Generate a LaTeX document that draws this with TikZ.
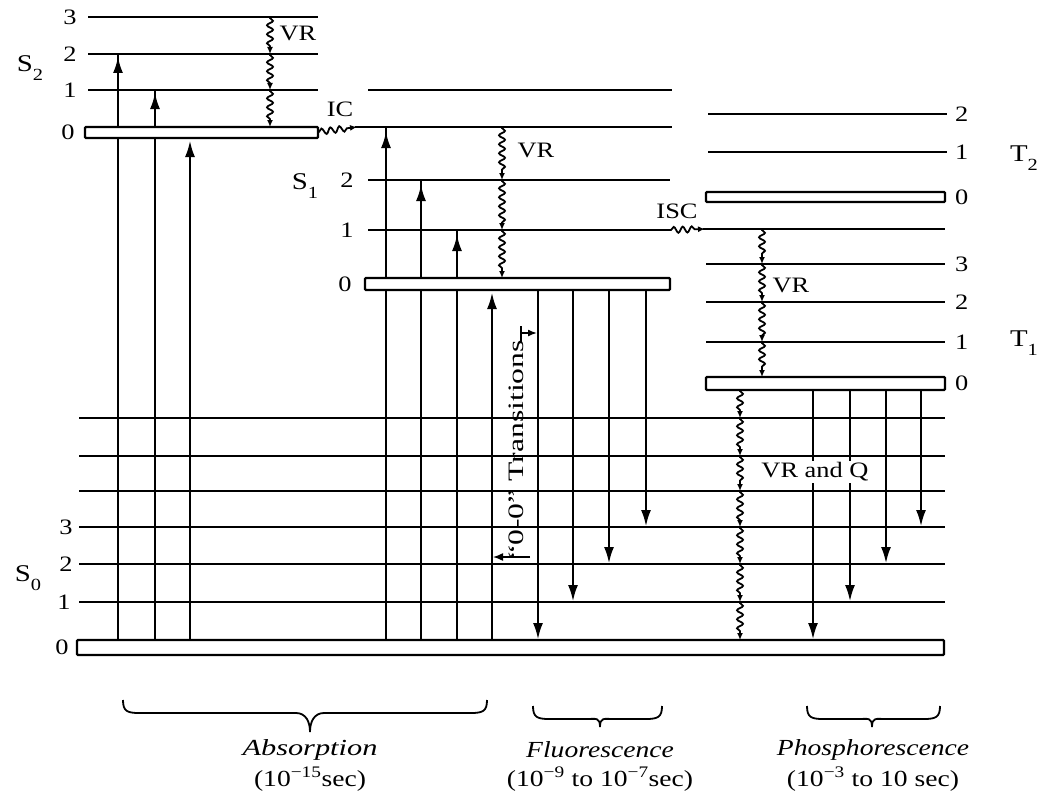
\documentclass[tikz,border=0pt]{standalone}
\usepackage{fontspec}
\setmainfont{Liberation Serif}[FakeStretch=1.2]
\usetikzlibrary{arrows.meta,decorations.pathmorphing}
\newcommand\lowsub[1]{\raisebox{-0.35em}{\fontsize{17}{17}\selectfont #1}}
\newcommand\mybrace[5]{% x1, x2, xtip, yend, ytip
  \draw[bracestyle] (#1,#4) .. controls (#1,#4+11) and (#1+4,#4+13) .. (#1+16,#4+13)
    -- (#3-14,#4+13) .. controls (#3-4,#4+13) and (#3,#5-10) .. (#3,#5)
    .. controls (#3,#5-10) and (#3+4,#4+13) .. (#3+14,#4+13)
    -- (#2-16,#4+13) .. controls (#2-4,#4+13) and (#2,#4+11) .. (#2,#4);}
\begin{document}
\begin{tikzpicture}[x=1pt,y=-1pt,
  lev/.style={line width=2.5pt},
  lvbox/.style={line width=2.2pt,fill=white,rounded corners=1pt},
  arr/.style={line width=1.8pt},
  arrtip/.style={line width=1.8pt,-{Latex[length=16pt,width=10pt]}},
  wav/.style={line width=1.8pt,decorate,decoration={snake,amplitude=3pt,segment length=9pt,post length=6pt,pre length=1pt},-{Latex[length=7pt,width=6pt]}},
  lvnum/.style={font=\fontsize{22}{24}\selectfont,inner sep=0pt},
  txtlab/.style={font=\fontsize{22}{24}\selectfont,inner sep=1pt},
  stlab/.style={font=\fontsize{24}{26}\selectfont,inner sep=1pt},
  bracestyle/.style={line width=1.8pt},
  bigit/.style={font=\fontsize{23}{26}\selectfont\itshape,inner sep=0pt},
  bigrm/.style={font=\fontsize{23}{26}\selectfont,inner sep=0pt}
]
\useasboundingbox (0,0) rectangle (1042,800);

% ---------- level lines ----------
% S2
\foreach \yy in {17,54,90} \draw[lev] (88,\yy) -- (318,\yy);
% S1
\draw[lev] (368,90) -- (672,90);
\draw[lev] (355,127) -- (672,127);
\draw[lev] (368,180) -- (670,180);
\draw[lev] (368,230) -- (670,230);
% T2 / T1
\draw[lev] (708,114) -- (947,114);
\draw[lev] (708,152) -- (947,152);
\draw[lev] (703,229) -- (945,229);
\foreach \yy in {264,302,342} \draw[lev] (706,\yy) -- (945,\yy);
% S0
\foreach \yy in {418,456,491,527,564,602} \draw[lev] (79,\yy) -- (945,\yy);

% ---------- absorption ----------
\draw[arr] (118,640) -- (118,54);  \draw[arrtip] (118,640) -- (118,57);
\draw[arr] (155,640) -- (155,90);  \draw[arrtip] (155,640) -- (155,93);
\draw[arrtip] (190,640) -- (190,141);
\draw[arr] (386,640) -- (386,127); \draw[arrtip] (386,640) -- (386,132);
\draw[arr] (421,640) -- (421,180); \draw[arrtip] (421,640) -- (421,185);
\draw[arr] (457,640) -- (457,230); \draw[arrtip] (457,640) -- (457,235);
\draw[arrtip] (492,640) -- (492,293);

% ---------- fluorescence ----------
\draw[arrtip] (538,290) -- (538,639);
\draw[arrtip] (573,290) -- (573,601);
\draw[arrtip] (609,290) -- (609,563);
\draw[arrtip] (646,290) -- (646,526);

% ---------- phosphorescence ----------
\draw[arrtip] (813,390) -- (813,639);
\draw[arrtip] (850,390) -- (850,601);
\draw[arrtip] (886,390) -- (886,563);
\draw[arrtip] (921,390) -- (921,526);

% ---------- vibrational relaxation (wavy) ----------
\draw[wav] (270,17) -- (270,54);
\draw[wav] (270,54) -- (270,90);
\draw[wav] (270,90) -- (270,127);
\draw[wav] (502,127) -- (502,180);
\draw[wav] (502,180) -- (502,230);
\draw[wav] (502,230) -- (502,278);
\draw[wav] (762,229) -- (762,264);
\draw[wav] (762,264) -- (762,302);
\draw[wav] (762,302) -- (762,342);
\draw[wav] (762,342) -- (762,377);
\foreach \ya/\yb in {390/418,418/456,456/491,491/527,527/564,564/602,602/640}
  \draw[wav] (740,\ya) -- (740,\yb);

% IC and ISC
\draw[wav] (318,132) -- (357,127);
\draw[wav] (670,230) -- (705,229);

% ---------- boxes (v = 0) ----------
\draw[lvbox] (85,127) rectangle (318,138);
\draw[lvbox] (365,278) rectangle (670,290);
\draw[lvbox] (706,192) rectangle (945,202);
\draw[lvbox] (706,377) rectangle (945,390);
\draw[lvbox] (77,640) rectangle (944,655);

% ---------- 0-0 transitions marker ----------
\node[rotate=90,txtlab] (zz) at (516,450) {\scalebox{1.2}[1]{“0-0” Transitions}};
\draw[line width=1.5pt] (521,326) -- (521,342);
\draw[line width=1.5pt,-{Latex[length=9pt,width=7pt]}] (521,333) -- (537,333);
\draw[line width=1.5pt,-{Latex[length=10pt,width=8pt]}] (530,557) -- (493,557);

% ---------- level numbers ----------
\node[lvnum] at (70,17) {3};
\node[lvnum] at (70,54) {2};
\node[lvnum] at (70,90) {1};
\node[lvnum] at (68,132) {0};
\node[lvnum] at (347,180) {2};
\node[lvnum] at (347,230) {1};
\node[lvnum] at (345,284) {0};
\foreach \yy/\tt in {114/2,152/1,197/0,264/3,302/2,342/1,383/0}
  \node[lvnum,anchor=west] at (955,\yy) {\tt};
\node[lvnum] at (66,527) {3};
\node[lvnum] at (66,564) {2};
\node[lvnum] at (64,602) {1};
\node[lvnum] at (62,647) {0};

% ---------- state labels ----------
\node[stlab] at (30,68) {S\lowsub{2}};
\node[stlab] at (305,186) {S\lowsub{1}};
\node[stlab] at (28,578) {S\lowsub{0}};
\node[stlab] at (1024,158) {T\lowsub{2}};
\node[stlab] at (1024,343) {T\lowsub{1}};

% ---------- process labels ----------
\node[txtlab] at (298,33) {VR};
\node[txtlab] at (536,150) {VR};
\node[txtlab] at (791,285) {VR};
\node[txtlab] at (340,109) {IC};
\node[txtlab] at (677,211) {ISC};
\node[txtlab,fill=white,inner sep=2pt] at (815,472) {VR and Q};

% ---------- braces ----------
\mybrace{123}{487}{310}{700}{732}
\mybrace{533}{662}{600}{706}{727}
\mybrace{807}{940}{872}{706}{727}

\node[bigit] at (310,750) {\scalebox{1.1}[1]{Absorption}};
\node[bigrm] at (310,779) {(10\textsuperscript{−15}sec)};
\node[bigit] at (600,750) {Fluorescence};
\node[bigrm] at (600,779) {(10\textsuperscript{−9} to 10\textsuperscript{−7}sec)};
\node[bigit] at (873,750) {Phosphorescence};
\node[bigrm] at (873,779) {(10\textsuperscript{−3} to 10 sec)};
\end{tikzpicture}
\end{document}
